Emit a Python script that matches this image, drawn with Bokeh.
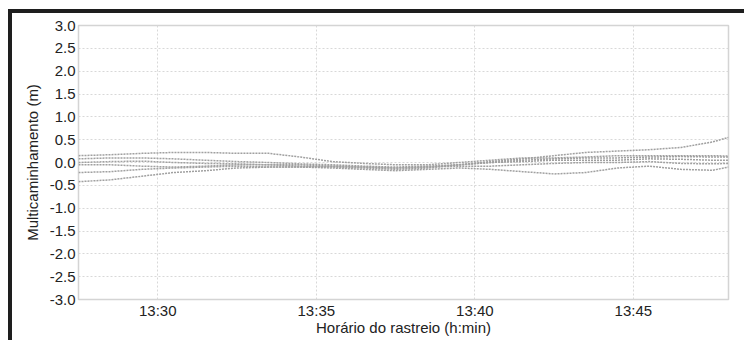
from bokeh.plotting import figure
from bokeh.models import FixedTicker
from bokeh.embed import file_html
from bokeh.resources import INLINE

# time in minutes after 13:00
minutes = [27.5, 28.5, 29.5, 30.5, 31.5, 32.5, 33.5, 34.5, 35.5, 36.5, 37.5,
           38.5, 39.5, 40.5, 41.5, 42.5, 43.5, 44.5, 45.5, 46.5, 47.5, 48.0]

serie_a = [0.15, 0.17, 0.20, 0.22, 0.22, 0.20, 0.20, 0.12, 0.02, -0.02, -0.05,
           -0.05, 0.00, 0.05, 0.10, 0.10, 0.12, 0.15, 0.15, 0.15, 0.15, 0.14]
serie_b = [0.08, 0.10, 0.10, 0.08, 0.05, 0.02, 0.00, -0.03, -0.05, -0.08, -0.10,
           -0.08, -0.05, 0.02, 0.08, 0.15, 0.22, 0.25, 0.28, 0.33, 0.45, 0.55]
serie_c = [0.00, 0.02, 0.03, 0.00, -0.02, -0.03, -0.05, -0.05, -0.08, -0.10, -0.12,
           -0.10, -0.05, 0.00, 0.05, 0.08, 0.10, 0.10, 0.12, 0.13, 0.12, 0.12]
serie_d = [-0.05, -0.05, -0.08, -0.10, -0.08, -0.05, -0.05, -0.08, -0.10, -0.12, -0.15,
           -0.12, -0.05, 0.00, 0.02, 0.05, 0.05, 0.05, 0.08, 0.07, 0.05, 0.05]
serie_e = [-0.22, -0.20, -0.15, -0.12, -0.10, -0.08, -0.10, -0.10, -0.08, -0.10, -0.12,
           -0.10, -0.08, -0.08, -0.05, -0.02, 0.00, 0.00, 0.02, -0.02, -0.03, -0.02]
serie_f = [-0.42, -0.38, -0.30, -0.22, -0.18, -0.12, -0.10, -0.10, -0.12, -0.15, -0.18,
           -0.15, -0.12, -0.15, -0.20, -0.25, -0.22, -0.12, -0.08, -0.15, -0.17, -0.10]
series = [serie_a, serie_b, serie_c, serie_d, serie_e, serie_f]

x_ticks = [30, 35, 40, 45]
x_tick_labels = ["13:30", "13:35", "13:40", "13:45"]
y_ticks = [-3.0, -2.5, -2.0, -1.5, -1.0, -0.5, 0.0, 0.5, 1.0, 1.5, 2.0, 2.5, 3.0]
y_tick_labels = ["-3.0", "-2.5", "-2.0", "-1.5", "-1.0", "-0.5", "0.0",
                 "0.5", "1.0", "1.5", "2.0", "2.5", "3.0"]

FONT = "Liberation Sans"

p = figure(width=736, height=331, output_backend="svg", toolbar_location=None,
           x_range=(27.5, 48.0), y_range=(-3.0, 3.0),
           min_border_left=66, min_border_top=12, min_border_right=20,
           min_border_bottom=45)
p.styles = {"margin-left": "8px", "margin-top": "9px",
            "border-left": "4px solid #1e1e1e", "border-top": "4px solid #1e1e1e"}

for s in series:
    p.line(minutes, s, line_color="#a0a0a0", line_width=1.5, line_dash="2 1")

p.outline_line_color = "#d4d4d4"
p.outline_line_width = 1.5

p.xaxis.ticker = FixedTicker(ticks=x_ticks)
p.xaxis.major_label_overrides = {t: l for t, l in zip(x_ticks, x_tick_labels)}
p.yaxis.ticker = FixedTicker(ticks=y_ticks)
p.yaxis.major_label_overrides = {t: l for t, l in zip(y_ticks, y_tick_labels)}

p.xaxis.axis_label = "Horário do rastreio (h:min)"
p.yaxis.axis_label = "Multicaminhamento (m)"

for ax in [p.xaxis[0], p.yaxis[0]]:
    ax.axis_line_color = None
    ax.major_tick_line_color = None
    ax.minor_tick_line_color = None
    ax.major_label_text_font = FONT
    ax.major_label_text_font_size = "15px"
    ax.major_label_text_color = "#222222"
    ax.axis_label_text_font = FONT
    ax.axis_label_text_font_size = "15px"
    ax.axis_label_text_font_style = "normal"
    ax.axis_label_text_color = "#222222"

p.xaxis.major_label_standoff = -4
p.xaxis.axis_label_standoff = -3
p.yaxis.major_label_standoff = -3
p.yaxis.axis_label_standoff = 6

p.xgrid.grid_line_color = "#d8d8d8"
p.xgrid.grid_line_dash = "2 2"
p.ygrid.grid_line_color = "#d8d8d8"
p.ygrid.grid_line_dash = "2 2"

p.background_fill_color = "white"
p.border_fill_color = "white"

open("out.html", "w").write(file_html(p, INLINE))
